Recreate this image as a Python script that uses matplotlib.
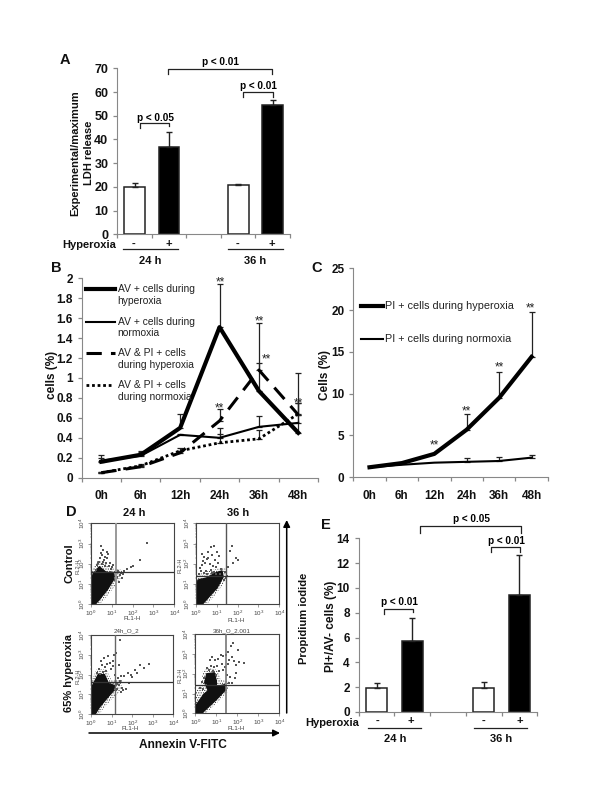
import numpy as np
import matplotlib
matplotlib.use('Agg')
import matplotlib.pyplot as plt

plt.rcParams['font.family'] = ['Liberation Sans', 'DejaVu Sans']
plt.rcParams['hatch.linewidth'] = 0.5

W, H = 600, 800

# panel A
a_values = [20, 37, 20.8, 54.5]
a_errors = [1.5, 6, 0.5, 2.3]
# panel E
e_values = [1.9, 5.75, 1.95, 9.45]
e_errors = [0.45, 1.85, 0.45, 3.2]
bar_slots = [0, 1, 3, 4]
bar_colors = ['white', 'black', 'white', 'black']

# panels B and C
times = ['0h', '6h', '12h', '24h', '36h', '48h']
b_av_hyper = [0.16, 0.23, 0.50, 1.51, 0.87, 0.45]
b_av_hyper_top = [0.23, 0.27, 0.64, 1.94, 1.55, 1.05]
b_av_norm = [0.17, 0.22, 0.43, 0.40, 0.51, 0.55]
b_av_norm_top = [0.20, 0.26, 0.44, 0.50, 0.62, 0.63]
b_both_hyper = [0.05, 0.11, 0.25, 0.57, 1.08, 0.63]
b_both_hyper_top = [0.06, 0.14, 0.27, 0.69, 1.15, 0.75]
b_both_norm = [0.05, 0.12, 0.27, 0.35, 0.39, 0.64]
b_both_norm_top = [0.06, 0.13, 0.30, 0.44, 0.48, 0.75]
c_hyper = [1.2, 1.7, 2.8, 5.7, 9.5, 14.4]
c_hyper_top = [1.2, 1.7, 2.8, 7.6, 12.6, 19.8]
c_norm = [1.2, 1.5, 1.75, 1.85, 1.95, 2.35]
c_norm_top = [1.2, 1.5, 1.75, 2.3, 2.4, 2.7]

# panel D, everything in decades (log10 of the channel value)
d_tl_core = [(0.02, 0), (0, 1.0), (0.1, 1.5), (0.4, 1.85), (0.7, 1.6), (1.1, 1.5), (1.1, 1.25), (0.8, 0.75), (0.45, 0.3), (0.2, 0)]
d_tl_fringe = [(0, 0), (0, 1.6), (0.3, 2.15), (0.6, 2.1), (0.9, 1.8), (1.5, 1.7), (1.4, 1.25), (1.0, 0.7), (0.65, 0.25), (0.4, 0)]
d_tl_x = [0.59, 0.51, 0.67, 0.43, 0.75, 0.59, 0.35, 0.91, 1.07, 0.48, 0.62, 0.8, 0.3, 0.55, 0.7, 1.0, 1.2, 1.3, 1.45, 1.6, 1.75, 1.9, 2.0, 2.35, 2.7, 0.25, 0.4, 1.25, 1.4, 1.5, 0.85, 0.95, 1.15, 1.35, 1.55, 0.2, 0.65, 0.75, 0.5, 0.9]
d_tl_y = [2.68, 2.44, 2.35, 2.27, 2.27, 2.1, 2.02, 2.02, 1.94, 2.55, 2.2, 2.5, 1.95, 1.98, 2.05, 1.85, 1.7, 1.65, 1.55, 1.65, 1.75, 1.85, 1.9, 2.2, 3.05, 1.7, 2.1, 1.35, 1.45, 1.3, 1.9, 1.75, 1.2, 1.1, 1.48, 1.6, 1.9, 2.6, 2.9, 1.6]
d_tr_core = [(0.05, 0), (0, 0.7), (0.1, 1.2), (0.5, 1.3), (0.95, 1.55), (1.25, 1.65), (1.3, 1.35), (1.0, 0.8), (0.6, 0.35), (0.3, 0)]
d_tr_fringe = [(0, 0), (0, 1.4), (0.4, 1.6), (1.0, 1.75), (1.4, 1.8), (1.45, 1.25), (1.1, 0.7), (0.75, 0.25), (0.5, 0)]
d_tr_x = [0.7, 0.85, 1.0, 0.6, 0.4, 0.55, 0.75, 0.9, 1.1, 0.3, 0.45, 0.65, 0.8, 0.95, 0.25, 0.5, 0.7, 1.2, 1.4, 1.55, 1.65, 1.75, 1.9, 2.0, 1.8, 1.5, 1.35, 0.35, 0.6, 0.85, 1.05, 0.15, 0.4, 0.75, 1.15, 1.45, 0.55, 0.95, 0.2, 0.3]
d_tr_y = [2.85, 2.9, 2.6, 2.6, 2.35, 2.25, 2.45, 2.2, 2.4, 1.95, 2.05, 2.0, 1.9, 1.85, 1.65, 1.65, 1.7, 1.75, 1.6, 1.85, 2.65, 2.9, 2.3, 2.2, 2.05, 1.4, 1.2, 2.15, 2.3, 1.6, 2.05, 1.5, 1.55, 1.55, 1.5, 1.3, 1.5, 1.5, 1.8, 2.5]
d_bl_core = [(0.02, 0), (0, 1.3), (0.15, 1.6), (0.35, 2.0), (0.65, 2.0), (0.85, 1.55), (1.15, 1.45), (1.1, 1.2), (0.8, 0.85), (0.4, 0.35), (0.2, 0)]
d_bl_fringe = [(0, 0), (0, 1.7), (0.3, 2.3), (0.75, 2.25), (1.0, 1.7), (1.55, 1.75), (1.4, 1.15), (1.0, 0.75), (0.6, 0.3), (0.4, 0)]
d_bl_x = [1.4, 1.2, 1.1, 1.05, 0.9, 0.8, 0.7, 0.55, 0.4, 0.3, 0.95, 0.75, 0.6, 0.45, 1.3, 1.45, 1.6, 1.8, 1.95, 2.15, 2.4, 2.6, 2.8, 1.35, 1.5, 1.7, 1.85, 1.25, 1.4, 1.55, 2.0, 2.25, 1.35, 1.15, 0.85, 0.5, 0.65, 1.05, 1.25, 1.45]
d_bl_y = [3.75, 3.1, 3.0, 2.7, 2.6, 2.55, 2.4, 2.5, 2.3, 2.1, 2.3, 2.2, 2.15, 2.05, 1.85, 1.95, 1.95, 2.1, 2.0, 2.25, 2.5, 2.35, 2.55, 1.5, 1.35, 1.3, 1.6, 1.3, 1.7, 1.25, 1.9, 2.1, 2.5, 2.0, 2.95, 2.7, 2.85, 2.45, 1.55, 1.15]
d_br_core = [(0.02, 0), (0, 0.35), (0.4, 0.95), (0.62, 1.15), (0.45, 1.55), (0.55, 2.0), (0.9, 2.05), (1.0, 1.65), (1.0, 1.35), (1.4, 1.45), (1.45, 1.2), (1.0, 0.7), (0.6, 0.3), (0.3, 0)]
d_br_fringe = [(0, 0), (0, 1.1), (0.3, 1.5), (0.35, 2.1), (0.6, 2.3), (1.05, 2.2), (1.2, 1.7), (1.6, 1.6), (1.55, 1.1), (1.1, 0.6), (0.7, 0.2), (0.5, 0)]
d_br_x = [1.8, 2.05, 1.7, 1.55, 1.45, 1.3, 1.2, 1.1, 0.95, 0.8, 0.7, 0.75, 0.65, 0.9, 1.05, 1.25, 1.4, 1.55, 1.6, 1.75, 1.85, 1.95, 2.1, 2.3, 1.3, 1.15, 1.0, 0.85, 0.55, 0.4, 0.3, 0.5, 0.2, 0.35, 1.5, 1.65, 1.9, 1.75, 1.95, 1.6]
d_br_y = [3.55, 3.2, 3.4, 3.1, 2.95, 2.9, 2.95, 2.75, 2.7, 2.85, 2.7, 2.4, 2.2, 2.35, 2.4, 2.5, 2.35, 2.5, 2.7, 2.85, 2.65, 2.45, 2.6, 2.55, 2.2, 2.15, 1.95, 2.15, 2.3, 1.8, 1.6, 1.45, 1.3, 1.25, 1.95, 1.85, 1.8, 1.55, 2.05, 1.55]


def panel_axes(fig, left, right, top, bottom):
    return fig.add_axes([left / W, 1 - bottom / H, (right - left) / W, (bottom - top) / H])


def style_axes(ax, size=8.5):
    ax.spines['top'].set_visible(False)
    ax.spines['right'].set_visible(False)
    ax.spines['left'].set_color('#888888')
    ax.spines['bottom'].set_color('#888888')
    ax.tick_params(axis='both', which='major', color='#888888', length=3, width=0.9)
    for label in ax.get_yticklabels():
        label.set_fontsize(size)
        label.set_fontweight('bold')
        label.set_color('#111111')


def bar_panel(ax, values, errors, ylim, step, size):
    lower = [0] * len(errors)
    ax.bar(bar_slots, values, width=0.6, color=bar_colors, edgecolor='#222222', linewidth=1.1,
           yerr=[lower, errors], ecolor='#222222', capsize=2.5,
           error_kw={'elinewidth': 1.0, 'capthick': 1.0})
    ax.set_xlim(-0.5, 4.5)
    ax.set_ylim(0, ylim)
    ax.set_xticks(np.arange(-0.5, 5, 1))
    ax.set_xticklabels([])
    ax.set_yticks(np.arange(0, ylim + 1, step))
    style_axes(ax, size)


def time_axis(ax, ylim, yticks, ylabels):
    ax.set_xlim(-0.5, 5.5)
    ax.set_ylim(0, ylim)
    ax.set_xticks(np.arange(-0.5, 6, 1))
    ax.set_xticklabels([])
    ax.set_xticks(range(6), minor=True)
    ax.set_xticklabels(times, minor=True, fontsize=8.5, fontweight='bold', color='#111111')
    ax.tick_params(axis='x', which='minor', length=0, pad=9)
    ax.set_yticks(yticks)
    ax.set_yticklabels(ylabels)
    style_axes(ax)


def err_up(ax, values, tops):
    # some time points have no visible bar, those are left out
    xs = [i for i in range(6) if tops[i] > values[i]]
    vals = [values[i] for i in xs]
    ups = [tops[i] - values[i] for i in xs]
    ax.errorbar(xs, vals, yerr=[[0] * len(xs), ups], fmt='none', ecolor='#222222',
                elinewidth=0.9, capsize=2.3, capthick=0.9)


def flow_plot(fig, box, core, fringe, xs, ys, vgate, hgate, vcolor, vwidth):
    ax = panel_axes(fig, *box)
    ax.set_xscale('log')
    ax.set_yscale('log')
    ax.fill([10 ** p[0] for p in fringe], [10 ** p[1] for p in fringe], facecolor='none',
            edgecolor='#333333', hatch='.......', linewidth=0, zorder=1)
    ax.fill([10 ** p[0] for p in core], [10 ** p[1] for p in core], color='#111111', linewidth=1.0, zorder=2)
    ax.scatter(np.power(10.0, xs), np.power(10.0, ys), s=0.6, color='#555555', marker='s',
               linewidths=0, zorder=2)
    ax.axvline(10 ** vgate, color=vcolor, linewidth=vwidth, zorder=3)
    ax.axhline(10 ** hgate, color='#333333', linewidth=0.9, zorder=3)
    ax.set_xlim(1, 1e4)
    ax.set_ylim(1, 1e4)
    decades = [1, 10, 100, 1000, 10000]
    ax.set_xticks(decades)
    ax.set_yticks(decades)
    for spine in ax.spines.values():
        spine.set_color('#444444')
        spine.set_linewidth(0.8)
    ax.tick_params(axis='both', which='major', length=2, width=0.4, labelsize=4.5, pad=1, color='#555555', labelcolor='#444444')
    ax.tick_params(axis='both', which='minor', length=1, width=0.3, color='#555555')
    for label in ax.get_yticklabels():
        label.set_rotation(90)
        label.set_va('center')


def bracket(over, x0, x1, y, drop0, drop1, text, text_y):
    over.plot([x0, x0, x1, x1], [y + drop0, y, y, y + drop1], color='#222222', lw=0.9)
    over.text((x0 + x1) / 2 + 1, text_y, text, ha='center', va='center', fontsize=7.2, fontweight='bold')


def bold_text(over, x, y, s, size=8.0, rotation=0, ha='center'):
    over.text(x, y, s, ha=ha, va='center', fontsize=size, fontweight='bold', rotation=rotation, color='#111111')


fig = plt.figure(figsize=(6, 8), dpi=100, facecolor='white')

# A
ax_a = panel_axes(fig, 117.3, 290, 68.3, 234.3)
bar_panel(ax_a, a_values, a_errors, 70, 10, 9)

# B
ax_b = panel_axes(fig, 81.7, 318, 278.3, 477.7)
b_ticks = [0, 0.2, 0.4, 0.6, 0.8, 1, 1.2, 1.4, 1.6, 1.8, 2]
time_axis(ax_b, 2, b_ticks, ['0', '0.2', '0.4', '0.6', '0.8', '1', '1.2', '1.4', '1.6', '1.8', '2'])
err_up(ax_b, b_av_hyper, b_av_hyper_top)
err_up(ax_b, b_av_norm, b_av_norm_top)
err_up(ax_b, b_both_hyper, b_both_hyper_top)
err_up(ax_b, b_both_norm, b_both_norm_top)
ax_b.plot(range(6), b_av_hyper, color='black', lw=3)
ax_b.plot(range(6), b_av_norm, color='black', lw=1.5)
ax_b.plot(range(6), b_both_hyper, color='black', lw=2.2, dashes=(5, 3))
ax_b.plot(range(6), b_both_norm, color='black', lw=2, dashes=(1, 1))

# C
ax_c = panel_axes(fig, 353.3, 547.7, 268.3, 477.3)
time_axis(ax_c, 25, [0, 5, 10, 15, 20, 25], ['0', '5', '10', '15', '20', '25'])
err_up(ax_c, c_hyper, c_hyper_top)
err_up(ax_c, c_norm, c_norm_top)
ax_c.plot(range(6), c_hyper, color='black', lw=3)
ax_c.plot(range(6), c_norm, color='black', lw=1.5)

# D
flow_plot(fig, (91, 174.3, 523.3, 604.3), d_tl_core, d_tl_fringe, d_tl_x, d_tl_y, 1.18, 1.61, '#999999', 1.4)
flow_plot(fig, (196, 279.3, 523.3, 604.3), d_tr_core, d_tr_fringe, d_tr_x, d_tr_y, 1.46, 1.38, '#555555', 1.0)
flow_plot(fig, (91, 173.3, 635, 714.3), d_bl_core, d_bl_fringe, d_bl_x, d_bl_y, 1.17, 1.61, '#666666', 1.0)
flow_plot(fig, (195.3, 279.3, 634.3, 713.3), d_br_core, d_br_fringe, d_br_x, d_br_y, 1.46, 1.42, '#777777', 1.2)

# E
ax_e = panel_axes(fig, 358.7, 537.3, 538.3, 712)
bar_panel(ax_e, e_values, e_errors, 14, 2, 8.5)

# text, brackets and legends go on an overlay in pixel units
over = fig.add_axes([0, 0, 1, 1], facecolor='none')
over.set_xlim(0, W)
over.set_ylim(H, 0)
over.axis('off')

for letter, x, y in [('A', 64.5, 60), ('B', 56.5, 268), ('C', 317, 268), ('D', 71.5, 512), ('E', 326, 525)]:
    bold_text(over, x, y, letter, size=10.5)

# A labels
bold_text(over, 75, 153, 'Experimental/maximum', rotation=90)
bold_text(over, 89, 153, 'LDH release', rotation=90)
bold_text(over, 116, 245, 'Hyperoxia', ha='right')
for x, s in [(134, '-'), (169, '+'), (238, '-'), (272, '+')]:
    bold_text(over, x, 244, s)
over.plot([122.7, 178], [249, 249], color='#222222', lw=0.9)
over.plot([227.7, 283], [249, 249], color='#222222', lw=0.9)
bold_text(over, 150.7, 261.5, '24 h')
bold_text(over, 255, 261, '36 h')
bracket(over, 140, 169, 123.3, 5, 3, 'p < 0.05', 117.7)
bracket(over, 242.7, 272.7, 91.7, 5, 5, 'p < 0.01', 85.7)
bracket(over, 168, 271.7, 69, 5.3, 5.3, 'p < 0.01', 62)

# B labels
bold_text(over, 52, 375, 'cells (%)', rotation=90, size=8.5)
over.plot([86, 115], [289, 289], color='black', lw=3)
over.plot([86, 115], [321.5, 321.5], color='black', lw=1.5)
over.plot([86, 115], [353, 353], color='black', lw=2.2, dashes=(5, 3))
over.plot([86, 113], [385, 385], color='black', lw=2, dashes=(1, 1))
legend_b = [(289.3, 'AV + cells during'), (301, 'hyperoxia'), (322, 'AV + cells during'), (333, 'normoxia'),
            (353, 'AV & PI + cells'), (365, 'during hyperoxia'), (385, 'AV & PI + cells'), (397, 'during normoxia')]
for y, s in legend_b:
    over.text(117.7, y, s, ha='left', va='center', fontsize=7.4, color='#222222')
for x, y in [(220, 282), (259, 321), (266, 359.5), (219, 408), (298, 403)]:
    over.text(x, y, '**', ha='center', va='center', fontsize=8.5, color='#222222')

# C labels
bold_text(over, 325, 375, 'Cells (%)', rotation=90, size=8.5)
over.plot([360.7, 383.3], [305.7, 305.7], color='black', lw=3)
over.plot([360.7, 383.3], [339, 339], color='black', lw=1.5)
over.text(385.3, 305.7, 'PI + cells during hyperoxia', ha='left', va='center', fontsize=7.85, color='#222222')
over.text(385.3, 339.5, 'PI + cells during normoxia', ha='left', va='center', fontsize=7.85, color='#222222')
for x, y in [(434, 445), (466.7, 411), (499, 367), (530.7, 308)]:
    over.text(x, y, '**', ha='center', va='center', fontsize=8.5, color='#222222')

# D labels
bold_text(over, 134, 513, '24 h')
bold_text(over, 238, 513, '36 h')
bold_text(over, 69.5, 563, 'Control', rotation=90)
bold_text(over, 69, 673, '65% hyperoxia', rotation=90)
bold_text(over, 304, 618, 'Propidium iodide', rotation=90)
bold_text(over, 183, 745, 'Annexin V-FITC', size=8.6)
over.annotate('', xy=(286.7, 520), xytext=(286.7, 713), arrowprops=dict(arrowstyle='-|>', color='black', lw=1.1, shrinkA=0, shrinkB=0))
over.annotate('', xy=(280, 733), xytext=(89, 733), arrowprops=dict(arrowstyle='-|>', color='black', lw=1.1, shrinkA=0, shrinkB=0))
over.text(126, 630.7, '24h_O_2', ha='center', va='center', fontsize=4.5, color='#444444')
over.text(231.7, 630.7, '36h_O_2.001', ha='center', va='center', fontsize=4.5, color='#444444')
for x, y in [(131.7, 619), (236, 620), (130, 729), (236, 729)]:
    over.text(x, y, 'FL1-H', ha='center', va='center', fontsize=4.5, color='#444444')
for x, y in [(78.5, 566), (180, 565), (78.5, 676), (180, 675)]:
    over.text(x, y, 'FL2-H', ha='center', va='center', rotation=90, fontsize=4, color='#444444')

# E labels
bold_text(over, 331, 626, 'PI+/AV- cells (%)', rotation=90, size=8.5)
bold_text(over, 359, 723, 'Hyperoxia', ha='right')
for x, s in [(377.7, '-'), (410.7, '+'), (484, '-'), (520, '+')]:
    bold_text(over, x, 721, s)
over.plot([367.7, 421], [727.7, 727.7], color='#222222', lw=0.9)
over.plot([474, 526.7], [727.7, 727.7], color='#222222', lw=0.9)
bold_text(over, 395, 739, '24 h')
bold_text(over, 500.7, 739, '36 h')
bracket(over, 384, 412.7, 609, 5, 3, 'p < 0.01', 602.3)
bracket(over, 491, 520, 547, 5.3, 5.3, 'p < 0.01', 541)
bracket(over, 420.3, 520.7, 526.3, 6.4, 6.4, 'p < 0.05', 519)

fig.savefig('out.png', dpi=100)
